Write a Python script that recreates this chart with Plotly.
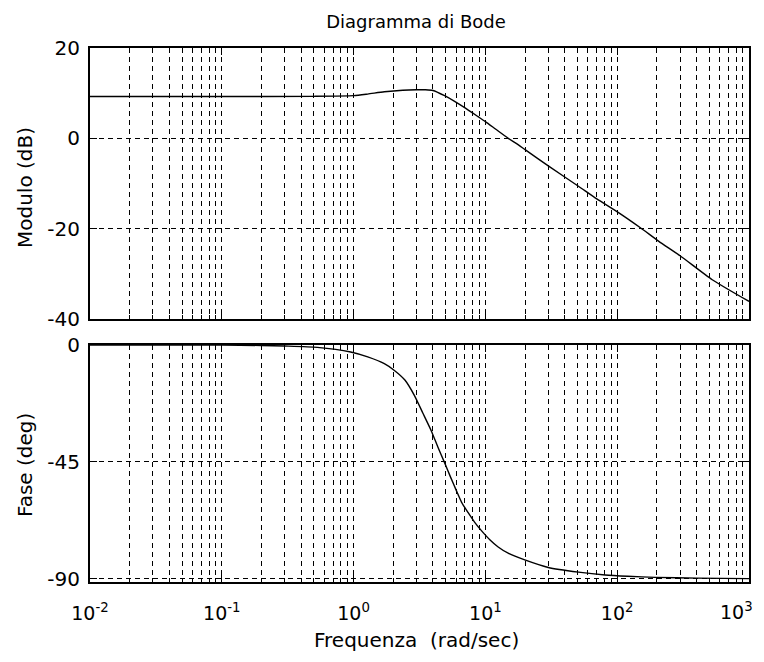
import plotly.graph_objects as go

# ---- data ----
freq_mag = [0.01, 0.1, 0.5, 1.0, 1.28, 1.71, 2.36, 3.0, 3.5, 4.0, 4.9, 5.84, 6.96,
            8.8, 10.0, 12.0, 14.9, 17.7, 20.0, 30.0, 50.8, 70.0, 103.0, 150.0,
            207.0, 300.0, 526.0, 1000.0]
mag_db = [9.26, 9.26, 9.3, 9.45, 9.8, 10.3, 10.65, 10.75, 10.75, 10.6, 9.45, 8.2, 6.8,
          4.8, 3.7, 2.0, 0.0, -1.4, -2.5, -6.1, -10.6, -13.4, -16.5, -19.8,
          -22.8, -26.0, -31.3, -36.1]

freq_phase = [0.01, 0.1, 0.2, 0.3, 0.53, 0.95, 1.28, 1.71, 2.04, 2.45, 2.89, 3.35,
              3.88, 4.35, 4.9, 5.45, 6.01, 6.6, 7.38, 8.3, 9.33, 10.8, 12.5, 15.0,
              19.9, 30.0, 50.8, 81.0, 120.0, 195.0, 400.0, 1000.0]
phase_deg = [0.0, 0.0, -0.2, -0.4, -0.9, -2.7, -4.6, -7.2, -9.8, -13.5, -19.4, -26.2,
             -33.0, -39.2, -45.3, -51.0, -56.0, -60.6, -64.5, -68.3, -71.5, -75.0, -77.8, -80.3,
             -82.8, -85.7, -87.5, -88.6, -89.1, -89.5, -89.8, -90.0]

x_tick_vals = [0.01, 0.1, 1, 10, 100, 1000]
x_tick_text = ["10<sup>-2</sup>", "10<sup>-1</sup>", "10<sup>0</sup>",
               "10<sup>1</sup>", "10<sup>2</sup>", ""]
last_tick_text = "10<sup>3</sup>"   # drawn separately so it fits at the right edge
minor_vals = [m * d for d in [0.01, 0.1, 1, 10, 100] for m in range(2, 10)]
mag_ticks = [20, 0, -20, -40]
mag_tick_text = ["20", "0", "-20", "-40"]
phase_ticks = [0, -45, -90]
phase_tick_text = ["0", "-45", "-90"]

FONT = "DejaVu Sans"
GRID = dict(showgrid=True, gridcolor="#000000", gridwidth=1.2, griddash="5px,4px")
LINE = dict(showline=True, linecolor="#000000", linewidth=2, mirror="ticks",
            ticks="inside", tickcolor="#000000", zeroline=False, automargin=False)

fig = go.Figure()
fig.add_trace(go.Scatter(x=freq_mag, y=mag_db, mode="lines", xaxis="x", yaxis="y",
                         line=dict(color="#000000", width=1.4, shape="spline", smoothing=0.6),
                         showlegend=False))
fig.add_trace(go.Scatter(x=freq_phase, y=phase_deg, mode="lines", xaxis="x2", yaxis="y2",
                         line=dict(color="#000000", width=1.4, shape="spline", smoothing=0.6),
                         showlegend=False))

xcommon = dict(type="log", range=[-2, 3.0000001], tickmode="array", tickvals=x_tick_vals,
               ticklen=7, tickwidth=1, ticklabeloverflow="allow",
               minor=dict(tickmode="array", tickvals=minor_vals, ticks="inside", ticklen=4,
                          tickcolor="#000000", showgrid=True, gridcolor="#000000",
                          gridwidth=1.2, griddash="5px,4px"),
               **GRID, **LINE)

# page has an 8px body margin: figure is drawn from (8, 8)
fig.update_layout(
    width=756, height=654, autosize=False,
    margin=dict(l=82, r=15, t=40, b=80, autoexpand=False),
    paper_bgcolor="white", plot_bgcolor="white",
    font=dict(family=FONT, size=19, color="#000000"),
    title=dict(text="Diagramma di Bode", x=(416 - 90) / 659, xref="paper", xanchor="center",
               y=1 - 14 / 654, yanchor="middle", font=dict(family=FONT, size=18)),
    xaxis=dict(anchor="y", domain=[0, 1], showticklabels=False, **xcommon),
    xaxis2=dict(anchor="y2", domain=[0, 1], ticktext=x_tick_text, showticklabels=True,
                ticklabelstandoff=13, tickfont=dict(family=FONT, size=19), **xcommon),
    yaxis=dict(anchor="x", domain=[0.4925, 1], range=[-40, 20], tickmode="array",
               tickvals=mag_ticks, ticktext=mag_tick_text, ticklen=7, ticklabelstandoff=4,
               tickfont=dict(family=FONT, size=20), **GRID, **LINE),
    yaxis2=dict(anchor="x2", domain=[0, 0.4438], range=[-91.3, 0], tickmode="array",
                tickvals=phase_ticks, ticktext=phase_tick_text, ticklen=7, ticklabelstandoff=4,
                tickfont=dict(family=FONT, size=20), **GRID, **LINE),
    annotations=[
        dict(text="Modulo (dB)", xref="paper", yref="paper", x=(25 - 90) / 659,
             y=(582 - 188) / 534, xanchor="center", yanchor="middle",
             textangle=-90, showarrow=False, font=dict(family=FONT, size=20)),
        dict(text="Fase (deg)", xref="paper", yref="paper", x=(25 - 90) / 659,
             y=(582 - 465) / 534, xanchor="center", yanchor="middle",
             textangle=-90, showarrow=False, font=dict(family=FONT, size=20)),
        dict(text="Frequenza  (rad/sec)", xref="paper", yref="paper", x=(416 - 90) / 659,
             y=(582 - 640) / 534, xanchor="center", yanchor="middle",
             showarrow=False, font=dict(family=FONT, size=20)),
        dict(text=last_tick_text, xref="paper", yref="paper", x=(755 - 90) / 659,
             y=(582 - 611) / 534, xanchor="right", yanchor="middle",
             showarrow=False, font=dict(family=FONT, size=19)),
    ],
)

fig.write_html("out.html")
